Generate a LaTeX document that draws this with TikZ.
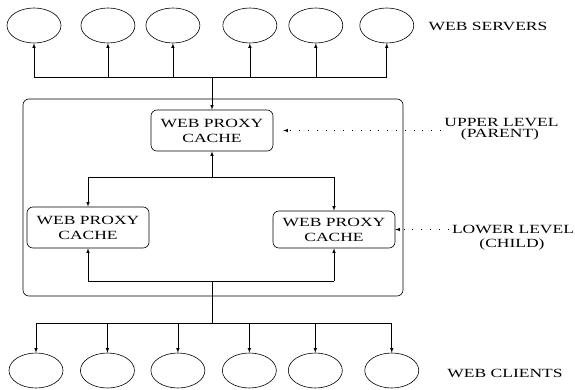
\documentclass[tikz,border=0pt]{standalone}
\usepackage{fontspec}
\newfontfamily\largofont[FakeStretch=1.4]{Liberation Serif}
\usepackage{tikz}
\usetikzlibrary{shapes.geometric,arrows}
\tikzstyle{ovale} = [ellipse,draw=black,semithick,minimum width=54pt,minimum height=35pt,inner sep=0pt]
\tikzstyle{nodocache} = [rectangle,rounded corners=6pt,draw=black,semithick,minimum width=122pt,minimum height=41pt,text centered,align=center]
\tikzstyle{gruppo} = [rectangle,rounded corners=6pt,draw=black,semithick,minimum width=380pt,minimum height=197pt]
\tikzstyle{arrow} = [semithick,->,>=latex]
\tikzstyle{puntini} = [semithick,->,>=latex,dash pattern=on 0.8pt off 8pt]

\begin{document}
\begin{tikzpicture}
\tikzstyle{every node}=[font=\largofont\fontsize{12.5pt}{15pt}\selectfont]

% 1 pixel = 1pt, y going down
\useasboundingbox (0pt,0pt) rectangle (575pt,-390pt);

\node (lvl) [gruppo,xshift=213pt,yshift=-197.5pt] {};

\node (srv1) [ovale,xshift=34pt,yshift=-25.5pt] {};
\node (srv2) [ovale,right of=srv1,xshift=45.5pt] {};
\node (srv3) [ovale,right of=srv2,xshift=36.5pt] {};
\node (srv4) [ovale,right of=srv3,xshift=48.5pt] {};
\node (srv5) [ovale,right of=srv4,xshift=37.5pt] {};
\node (srv6) [ovale,right of=srv5,xshift=42.5pt] {};

\node (cli1) [ovale,xshift=36pt,yshift=-370.5pt] {};
\node (cli2) [ovale,right of=cli1,xshift=43pt] {};
\node (cli3) [ovale,right of=cli2,xshift=42pt] {};
\node (cli4) [ovale,right of=cli3,xshift=43pt] {};
\node (cli5) [ovale,right of=cli4,xshift=37.5pt] {};
\node (cli6) [ovale,right of=cli5,xshift=48pt] {};

\node (upper) [nodocache,xshift=212pt,yshift=-130.5pt] {WEB PROXY\\CACHE};
\node (left)  [nodocache,xshift=88pt,yshift=-227.5pt] {WEB PROXY\\CACHE};
\node (right) [nodocache,minimum height=37pt,xshift=334pt,yshift=-229.5pt] {WEB PROXY\\CACHE};

\node (srvlbl) [xshift=488pt,yshift=-26pt] {WEB SERVERS};
\node (upperlbl) [xshift=501.5pt,yshift=-122.5pt] {UPPER LEVEL};
\node (upperlbl2) [below of=upperlbl,xshift=-1.5pt,yshift=16pt] {(PARENT)};
\node (lowerlbl) [xshift=513pt,yshift=-229pt] {LOWER LEVEL};
\node (lowerlbl2) [below of=lowerlbl,xshift=-1pt,yshift=12.5pt] {(CHILD)};
\node (clilbl) [xshift=505pt,yshift=-373pt] {WEB CLIENTS};

% bus heights
\node (sbus) [coordinate,yshift=-77pt] {};
\node (mbus) [coordinate,yshift=-177pt] {};
\node (lbus) [coordinate,yshift=-281pt] {};
\node (cbus) [coordinate,yshift=-323pt] {};

\draw[semithick] (srv1 |- sbus) -- (srv6 |- sbus);
\draw[arrow] (srv1 |- sbus) -- (srv1);
\draw[arrow] (srv2 |- sbus) -- (srv2);
\draw[arrow] (srv3 |- sbus) -- (srv3);
\draw[arrow] (srv4 |- sbus) -- (srv4);
\draw[arrow] (srv5 |- sbus) -- (srv5);
\draw[arrow] (srv6 |- sbus) -- (srv6);
\draw[arrow] (upper |- sbus) -- (upper);

\draw[arrow] (upper |- mbus) -- (upper);
\draw[semithick] (left |- mbus) -- (right |- mbus);
\draw[arrow] (left |- mbus) -- (left);
\draw[arrow] (right |- mbus) -- (right);

\draw[semithick] (left |- lbus) -- (right |- lbus);
\draw[arrow] (left |- lbus) -- (left);
\draw[arrow] (right |- lbus) -- (right);
\draw[semithick] (upper |- lbus) -- (upper |- cbus);

\draw[semithick] (cli1 |- cbus) -- (cli6 |- cbus);
\draw[arrow] (cli1 |- cbus) -- (cli1);
\draw[arrow] (cli2 |- cbus) -- (cli2);
\draw[arrow] (cli3 |- cbus) -- (cli3);
\draw[arrow] (cli4 |- cbus) -- (cli4);
\draw[arrow] (cli5 |- cbus) -- (cli5);
\draw[arrow] (cli6 |- cbus) -- (cli6);

\draw[puntini,shorten >=10pt] (upperlbl.west |- upper.east) -- (upper.east);
\draw[puntini] (lowerlbl.west |- right.east) -- (right.east);
\end{tikzpicture}
\end{document}
